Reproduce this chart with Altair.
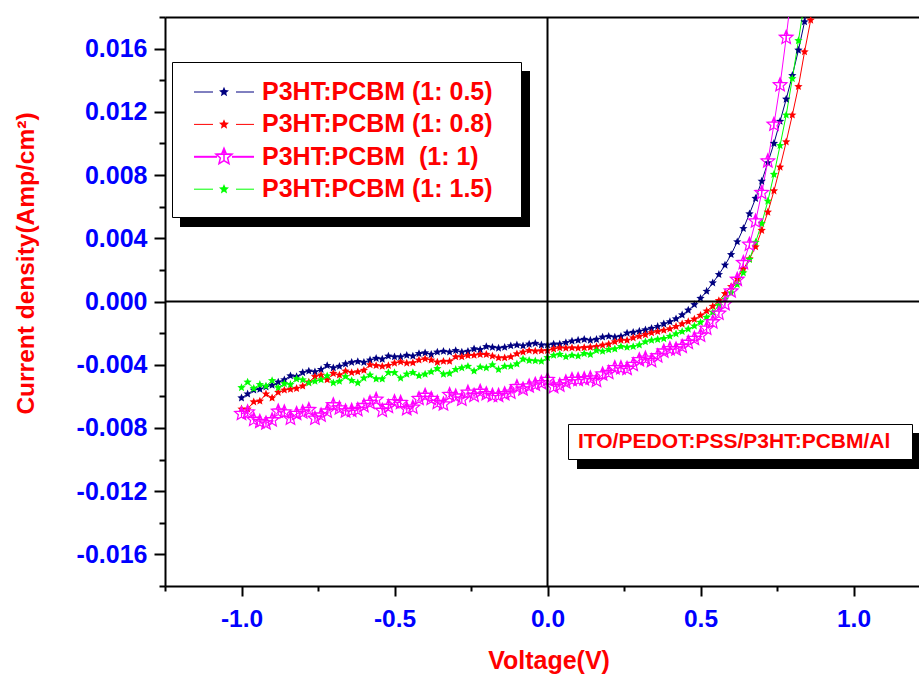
import math
import pandas as pd
import altair as alt

# ---------------- data ----------------
voltage = [
    -1.00, -0.98, -0.96, -0.94, -0.92, -0.90, -0.88, -0.86, -0.84, -0.82,
    -0.80, -0.78, -0.76, -0.74, -0.72, -0.70, -0.68, -0.66, -0.64, -0.62,
    -0.60, -0.58, -0.56, -0.54, -0.52, -0.50, -0.48, -0.46, -0.44, -0.42,
    -0.40, -0.38, -0.36, -0.34, -0.32, -0.30, -0.28, -0.26, -0.24, -0.22,
    -0.20, -0.18, -0.16, -0.14, -0.12, -0.10, -0.08, -0.06, -0.04, -0.02,
    0.00, 0.02, 0.04, 0.06, 0.08, 0.10, 0.12, 0.14, 0.16, 0.18,
    0.20, 0.22, 0.24, 0.26, 0.28, 0.30, 0.32, 0.34, 0.36, 0.38,
    0.40, 0.42, 0.44, 0.46, 0.48, 0.50, 0.52, 0.54, 0.56, 0.58,
    0.60, 0.62, 0.64, 0.66, 0.68, 0.70, 0.72, 0.74, 0.76, 0.78,
    0.80, 0.82, 0.84, 0.86,
]

# current density in mA/cm^2 (converted to A/cm^2 below)
j_1_05 = [
    -6.1, -5.85, -5.6, -5.55, -5.4, -5.3, -5.1, -4.95, -4.7, -4.75,
    -4.5, -4.4, -4.45, -4.3, -4.05, -4.2, -4.1, -3.95, -3.85, -3.8,
    -3.85, -3.7, -3.6, -3.65, -3.45, -3.5, -3.5, -3.4, -3.45, -3.3,
    -3.25, -3.35, -3.2, -3.15, -3.2, -3.1, -3.2, -3.15, -3.0, -3.05,
    -2.85, -2.9, -2.95, -2.9, -2.8, -2.75, -2.8, -2.7, -2.65, -2.75,
    -2.75, -2.7, -2.7, -2.6, -2.5, -2.45, -2.4, -2.45, -2.4, -2.25,
    -2.2, -2.25, -2.2, -2.0, -1.95, -1.88, -1.8, -1.7, -1.58, -1.42,
    -1.28, -1.1, -0.85, -0.55, -0.2, 0.2, 0.65, 1.18, 1.71, 2.30,
    2.97, 3.78, 4.62, 5.55, 6.52, 7.61, 8.78, 10.0, 11.4, 12.8,
    14.3, 15.9, 17.7, 19.6,
]
j_1_08 = [
    -6.8, -6.8, -6.35, -6.3, -5.85, -6.1, -5.75, -5.6, -5.55, -5.5,
    -5.35, -5.1, -4.75, -4.65, -4.95, -4.55, -4.65, -4.4, -4.5, -4.45,
    -4.35, -4.0, -4.05, -4.1, -4.05, -3.9, -3.82, -3.9, -3.88, -3.7,
    -3.63, -3.7, -3.84, -3.78, -3.78, -3.5, -3.5, -3.42, -3.4, -3.35,
    -3.35, -3.45, -3.56, -3.56, -3.5, -3.31, -3.2, -3.1, -3.14, -3.12,
    -3.1, -3.0, -2.93, -2.95, -2.93, -2.95, -2.92, -2.89, -2.85, -2.76,
    -2.7, -2.55, -2.45, -2.45, -2.3, -2.2, -2.1, -1.98, -1.9, -1.82,
    -1.73, -1.58, -1.42, -1.27, -1.12, -0.88, -0.6, -0.3, 0.05, 0.5,
    0.95, 1.45, 2.05, 2.7, 3.46, 4.5, 5.65, 7.0, 8.5, 10.1,
    11.8, 13.6, 15.8, 17.8,
]
j_1_1 = [
    -7.1, -7.0, -7.47, -7.6, -7.7, -7.5, -6.95, -7.0, -7.4, -7.1,
    -7.0, -6.85, -7.4, -7.2, -6.95, -6.55, -6.75, -6.94, -6.9, -6.85,
    -6.6, -6.4, -6.2, -6.9, -6.65, -6.35, -6.4, -6.8, -6.7, -6.15,
    -5.95, -6.15, -6.4, -6.5, -5.9, -6.0, -6.2, -5.75, -5.95, -5.7,
    -5.85, -5.95, -5.95, -5.85, -5.75, -5.4, -5.55, -5.36, -5.25, -5.15,
    -4.95, -5.4, -5.3, -5.1, -4.95, -4.95, -4.9, -4.85, -5.0, -4.6,
    -4.5, -4.2, -4.2, -4.25, -4.0, -3.7, -3.6, -3.75, -3.45, -3.15,
    -3.0, -3.02, -2.85, -2.6, -2.35, -2.15, -1.7, -1.3, -0.75, -0.15,
    0.65, 1.39, 2.45, 3.61, 5.08, 6.88, 8.88, 11.2, 13.7, 16.7,
    20.0,
]
j_1_15 = [
    -5.45, -5.1, -5.5, -5.25, -5.35, -5.0, -5.45, -5.2, -5.25, -4.9,
    -4.95, -5.15, -5.05, -4.95, -4.7, -5.15, -5.05, -4.75, -5.0, -5.15,
    -4.85, -4.65, -4.9, -4.9, -4.5, -4.5, -4.85, -4.6, -4.5, -4.7,
    -4.6, -4.45, -4.25, -4.6, -4.55, -4.3, -4.2, -4.1, -4.4, -4.15,
    -4.2, -4.0, -4.3, -4.1, -4.1, -3.95, -3.65, -3.73, -3.75, -3.78,
    -3.55, -3.4, -3.35, -3.5, -3.4, -3.45, -3.3, -3.35, -3.1, -3.15,
    -3.05, -3.0, -2.85, -2.9, -2.85, -2.75, -2.55, -2.45, -2.4, -2.35,
    -2.2, -2.05, -1.9, -1.75, -1.55, -1.32, -1.0, -0.68, -0.25, 0.15,
    0.55, 1.08, 1.82, 2.66, 3.75, 4.94, 6.35, 8.04, 9.87, 11.8,
    14.1, 16.5, 19.0,
]

series_names = [
    "P3HT:PCBM (1: 0.5)",
    "P3HT:PCBM (1: 0.8)",
    "P3HT:PCBM\u00a0 (1: 1)",
    "P3HT:PCBM (1: 1.5)",
]
series_values = [j_1_05, j_1_08, j_1_1, j_1_15]
series_colors = ["#000080", "#ff0000", "#ff00ff", "#00ff00"]
hollow_series = series_names[2]
device_label = "ITO/PEDOT:PSS/P3HT:PCBM/Al"
x_title = "Voltage(V)"
y_title = "Current density(Amp/cm\u00b2)"

rows = []
for name, vals in zip(series_names, series_values):
    for v, j in zip(voltage, vals):
        rows.append({"series": name, "V": v, "J": j / 1000.0})
df = pd.DataFrame(rows)
zero_df = pd.DataFrame({"zero": [0.0]})
one_df = pd.DataFrame({"label": [device_label]})
legend_df = pd.DataFrame({"series": series_names, "row": list(range(len(series_names)))})

# ---------------- styles ----------------
FONT = "Liberation Sans"
W, H = 754, 569


def star_path(cx=0.0, cy=0.0, R=1.0, inner=0.45, cross=False):
    pts = []
    for k in range(10):
        ang = math.radians(-90 + 36 * k)
        r = R if k % 2 == 0 else R * inner
        pts.append((cx + r * math.cos(ang), cy + r * math.sin(ang)))
    d = "M" + " L".join(f"{x:.3f},{y:.3f}" for x, y in pts) + " Z"
    if cross:
        d += f" M{cx - 0.951 * R:.3f},{cy - 0.309 * R:.3f} L{cx + 0.951 * R:.3f},{cy - 0.309 * R:.3f}"
        d += f" M{cx:.3f},{cy - R:.3f} L{cx:.3f},{cy + inner * R:.3f}"
    return d


small_star = star_path()
hollow_star = star_path(cross=True)

color_scale = alt.Scale(domain=series_names, range=series_colors)
x_scale = alt.Scale(domain=[-1.25, 1.214], nice=False, zero=False)
y_scale = alt.Scale(domain=[-0.018, 0.018], nice=False, zero=False)

x_ticks = [-1.25, -1.0, -0.75, -0.5, -0.25, 0.0, 0.25, 0.5, 0.75, 1.0]
y_ticks = [round(-0.018 + 0.002 * k, 3) for k in range(19)]
x_major = "abs(round(datum.value*4)) % 2 == 0"
y_major = "abs(round(datum.value*1000)) % 4 == 0"

x_axis = alt.Axis(
    orient="bottom", values=x_ticks, title=x_title,
    labelExpr=f"{x_major} ? ((datum.value < -0.001 ? '-' : '') + format(abs(datum.value), '.1f')) : ''",
    labelFont=FONT, labelFontSize=24.5, labelFontWeight="bold", labelColor="#0000ff",
    labelPadding=11, labelFlush=False, labelOverlap=False,
    tickSize={"condition": {"test": x_major, "value": 10}, "value": 5},
    tickColor="black", tickWidth=2, domainColor="black", domainWidth=2, grid=False,
    titleFont=FONT, titleFontSize=25, titleFontWeight="bold", titleColor="#ff0000",
    titleX=383.5, titleY=82, titleBaseline="alphabetic", titleAlign="center",
)
y_axis = alt.Axis(
    orient="left", values=y_ticks, title=y_title,
    labelExpr=f"{y_major} ? ((datum.value < -0.0001 ? '-' : '') + format(abs(datum.value), '.3f')) : ''",
    labelFont=FONT, labelFontSize=25, labelFontWeight="bold", labelColor="#0000ff",
    labelPadding=7, labelFlush=False, labelOverlap=False,
    tickSize={"condition": {"test": y_major, "value": 11}, "value": 6},
    tickColor="black", tickWidth=2, domainColor="black", domainWidth=2, grid=False,
    titleFont=FONT, titleFontSize=24.5, titleFontWeight="bold", titleColor="#ff0000",
    titleX=-139, titleY=246, titleAngle=270, titleBaseline="middle", titleAlign="center",
)

base = alt.Chart(df)
no_legend_color = alt.Color("series:N", scale=color_scale, legend=None)

lines = base.mark_line(strokeWidth=1, clip=True).encode(
    x=alt.X("V:Q", scale=x_scale, axis=x_axis),
    y=alt.Y("J:Q", scale=y_scale, axis=y_axis),
    color=no_legend_color,
    detail="series:N",
)

small_pts = base.transform_filter(alt.datum.series != hollow_series).mark_point(
    shape=small_star, size=76, filled=True, strokeWidth=0, opacity=1, clip=True
).encode(
    x=alt.X("V:Q", scale=x_scale, axis=None),
    y=alt.Y("J:Q", scale=y_scale, axis=None),
    color=no_legend_color,
)

hollow_pts = base.transform_filter(alt.datum.series == hollow_series).mark_point(
    shape=hollow_star, size=210, filled=False, color="#ff00ff", strokeWidth=1.2, opacity=1, clip=True
).encode(
    x=alt.X("V:Q", scale=x_scale, axis=None),
    y=alt.Y("J:Q", scale=y_scale, axis=None),
)

zero_v = alt.Chart(zero_df).mark_rule(color="black", strokeWidth=2).encode(
    x=alt.X("zero:Q", scale=x_scale,
            axis=alt.Axis(orient="top", labels=False, ticks=False, title=None,
                          domainColor="black", domainWidth=2, grid=False)),
)
zero_h = alt.Chart(zero_df).mark_rule(color="black", strokeWidth=2).encode(
    y=alt.Y("zero:Q", scale=y_scale, axis=None),
)

# ---------------- hand-made legend box (Origin style) ----------------
is_hollow = alt.datum.series == hollow_series
legend_shadow = alt.Chart(one_df).mark_rect(color="black").encode(
    x=alt.value(15), x2=alt.value(365), y=alt.value(54), y2=alt.value(210)
)
legend_box = alt.Chart(one_df).mark_rect(fill="white", stroke="black", strokeWidth=1).encode(
    x=alt.value(7.5), x2=alt.value(356.5), y=alt.value(45.5), y2=alt.value(200.5)
)
leg = alt.Chart(legend_df).transform_calculate(
    ly="75 + 32.4 * datum.row",
    a0="29",
    a1=f"datum.series === '{hollow_series}' ? 52 : 48",
    b0=f"datum.series === '{hollow_series}' ? 67 : 71",
    b1="89",
)
leg_y = alt.Y("ly:Q", scale=None, axis=None)
leg_line_a = leg.mark_rule().encode(
    x=alt.X("a0:Q", scale=None, axis=None), x2="a1:Q", y=leg_y, color=no_legend_color,
    strokeWidth=alt.condition(is_hollow, alt.value(2), alt.value(1)),
)
leg_line_b = leg.mark_rule().encode(
    x=alt.X("b0:Q", scale=None, axis=None), x2="b1:Q", y=leg_y, color=no_legend_color,
    strokeWidth=alt.condition(is_hollow, alt.value(2), alt.value(1)),
)
leg_small = leg.transform_filter(alt.datum.series != hollow_series).mark_point(
    shape=small_star, size=110, filled=True, strokeWidth=0, opacity=1
).encode(x=alt.value(59), y=leg_y, color=no_legend_color)
leg_hollow = leg.transform_filter(is_hollow).mark_point(
    shape=hollow_star, size=289, filled=False, color="#ff00ff", strokeWidth=1.5, opacity=1
).encode(x=alt.value(59), y=leg_y)
leg_text = leg.mark_text(
    align="left", baseline="middle", font=FONT, fontSize=25, fontWeight="bold", color="#ff0000"
).encode(x=alt.value(97), y=leg_y, text="series:N")

# ---------------- device annotation box ----------------
note_shadow = alt.Chart(one_df).mark_rect(color="black").encode(
    x=alt.value(412), x2=alt.value(760), y=alt.value(416), y2=alt.value(452)
)
note_box = alt.Chart(one_df).mark_rect(fill="white", stroke="black", strokeWidth=1).encode(
    x=alt.value(403.5), x2=alt.value(747.5), y=alt.value(407.5), y2=alt.value(442.5)
)
note_text = alt.Chart(one_df).mark_text(
    align="left", baseline="alphabetic", font=FONT, fontSize=21, fontWeight="bold", color="#ff0000"
).encode(text="label:N", x=alt.value(413), y=alt.value(431))

chart = alt.layer(
    lines, small_pts, hollow_pts, zero_v, zero_h,
    legend_shadow, legend_box, leg_line_a, leg_line_b, leg_small, leg_hollow, leg_text,
    note_shadow, note_box, note_text,
).resolve_axis(x="independent", y="independent").properties(
    width=W, height=H,
    autosize=alt.AutoSizeParams(type="none"),
    padding={"left": 165, "top": 17, "right": 0, "bottom": 89},
).configure_view(stroke=None)

chart.save("out.html", embed_options={"renderer": "svg", "actions": False})
